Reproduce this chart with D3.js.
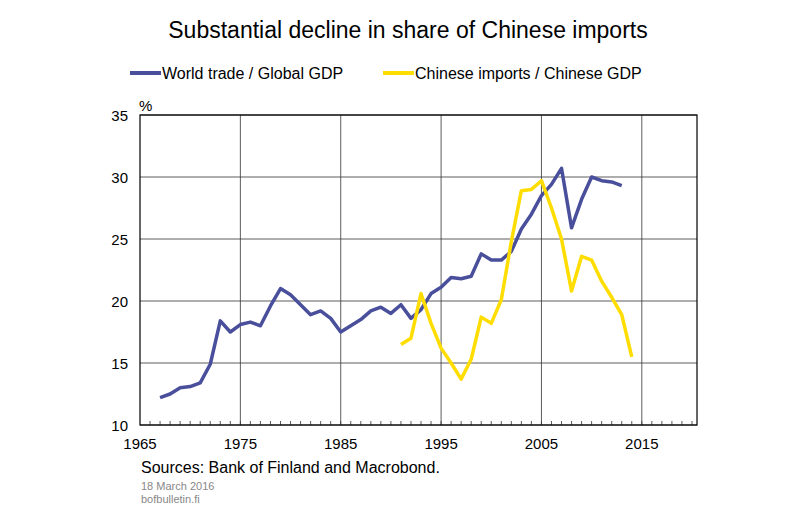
<!DOCTYPE html>
<html><head><meta charset="utf-8">
<script src="https://cdn.jsdelivr.net/npm/d3@7"></script>
<style>body{margin:0;background:#fff}text{font-family:"Liberation Sans",Arial,sans-serif}</style>
</head><body><svg id="chart" width="800" height="523"></svg>
<script>
const worldYears = d3.range(1967, 2014);
const worldTrade = [12.2,12.5,13.0,13.1,13.4,14.9,18.4,17.5,18.1,18.3,18.0,19.6,21.0,20.5,19.7,18.9,19.2,18.6,17.5,18.0,18.5,19.2,19.5,19.0,19.7,18.6,19.3,20.6,21.1,21.9,21.8,22.0,23.8,23.3,23.3,24.0,25.8,27.0,28.5,29.4,30.7,25.9,28.2,30.0,29.7,29.6,29.3];
const chinaYears = d3.range(1991, 2015);
const chinaImports = [16.5,17.0,20.6,18.2,16.2,15.0,13.7,15.3,18.7,18.2,20.1,24.8,28.9,29.0,29.7,27.5,25.0,20.8,23.6,23.3,21.6,20.3,18.9,15.5];
const xTicks = [1965,1975,1985,1995,2005,2015];
const yTicks = [10,15,20,25,30,35];

const svg = d3.select("#chart");
const plotL = 140, plotR = 697, plotT = 115, plotB = 425;
const x = d3.scaleLinear().domain([1965, 2020.5]).range([plotL, plotR]);
const y = d3.scaleLinear().domain([10, 35]).range([plotB, plotT]);

svg.append("text").attr("x", 408).attr("y", 38).attr("text-anchor", "middle")
  .attr("font-size", 23).text("Substantial decline in share of Chinese imports");

// legend
const legend = [["World trade / Global GDP", "#4a4f9c", 140], ["Chinese imports / Chinese GDP", "#ffdd00", 393]];
legend.forEach(([label, c, lx]) => {
  svg.append("line").attr("x1", lx - 10).attr("x2", lx + 21).attr("y1", 73).attr("y2", 73)
    .attr("stroke", c).attr("stroke-width", 4);
  svg.append("text").attr("x", lx + 22).attr("y", 79).attr("font-size", 16).text(label);
});

// grid
svg.append("g").selectAll("line").data(yTicks).join("line")
  .attr("x1", plotL).attr("x2", plotR).attr("y1", d => y(d)).attr("y2", d => y(d))
  .attr("stroke", "#333").attr("stroke-width", 0.8);
svg.append("g").selectAll("line").data(xTicks.slice(1)).join("line")
  .attr("x1", d => x(d)).attr("x2", d => x(d)).attr("y1", plotT).attr("y2", plotB)
  .attr("stroke", "#333").attr("stroke-width", 0.8);
// minor ticks
svg.append("g").selectAll("line").data(d3.range(1966, 2021)).join("line")
  .attr("x1", d => x(d)).attr("x2", d => x(d)).attr("y1", plotB).attr("y2", plotB - 4)
  .attr("stroke", "#333").attr("stroke-width", 0.8);
svg.append("rect").attr("x", plotL).attr("y", plotT).attr("width", plotR - plotL).attr("height", plotB - plotT)
  .attr("fill", "none").attr("stroke", "#000").attr("stroke-width", 1.2);

svg.append("g").selectAll("text").data(xTicks).join("text")
  .attr("x", d => x(d)).attr("y", plotB + 24).attr("text-anchor", "middle").attr("font-size", 15).text(d => d);
svg.append("g").selectAll("text").data(yTicks).join("text")
  .attr("x", plotL - 12).attr("y", d => y(d) + 6).attr("text-anchor", "end").attr("font-size", 15).text(d => d);
svg.append("text").attr("x", 139).attr("y", 111).attr("font-size", 15).text("%");

const line = d3.line().x(d => x(d[0])).y(d => y(d[1]));
svg.append("path").datum(d3.zip(worldYears, worldTrade)).attr("d", line)
  .attr("fill", "none").attr("stroke", "#4a4f9c").attr("stroke-width", 3.5).attr("stroke-linejoin", "round");
svg.append("path").datum(d3.zip(chinaYears, chinaImports)).attr("d", line)
  .attr("fill", "none").attr("stroke", "#ffdd00").attr("stroke-width", 3.5).attr("stroke-linejoin", "round");

svg.append("text").attr("x", 141).attr("y", 473).attr("font-size", 16).text("Sources: Bank of Finland and Macrobond.");
svg.append("text").attr("x", 141).attr("y", 490).attr("font-size", 11).attr("fill", "#888").text("18 March 2016");
svg.append("text").attr("x", 141).attr("y", 503).attr("font-size", 11).attr("fill", "#888").text("bofbulletin.fi");
</script></body></html>
